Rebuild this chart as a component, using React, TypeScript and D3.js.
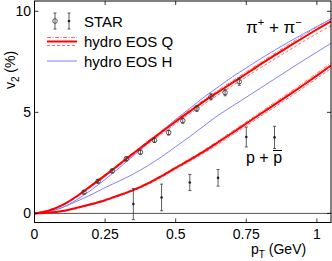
import React, { useEffect, useRef } from "react";
import * as d3 from "d3";

// pT grids (GeV)
const ptFine = [0, 0.05, 0.1, 0.15, 0.2, 0.25, 0.3, 0.35, 0.4, 0.45, 0.5, 0.55, 0.6, 0.65, 0.7, 0.75, 0.8, 0.85, 0.9, 0.95, 1.0, 1.05];
const ptCoarse = [0, 0.1, 0.2, 0.3, 0.4, 0.5, 0.6, 0.7, 0.8, 0.9, 1.0, 1.05];

// hydro curves, v2 in %
const pionEosQ = [0, 0.13, 0.42, 0.85, 1.36, 1.88, 2.42, 2.97, 3.5, 4.03, 4.55, 5.05, 5.54, 6.0, 6.46, 6.91, 7.37, 7.82, 8.25, 8.68, 9.1, 9.5];
const pionEosH = [0, 0.08, 0.3, 0.68, 1.15, 1.68, 2.25, 2.85, 3.45, 4.05, 4.65, 5.2, 5.75, 6.25, 6.75, 7.2, 7.65, 8.07, 8.48, 8.87, 9.25, 9.62];
const protonEosQ = [0, 0.03, 0.12, 0.28, 0.45, 0.65, 0.9, 1.15, 1.47, 1.85, 2.25, 2.65, 3.07, 3.52, 3.98, 4.45, 4.92, 5.38, 5.85, 6.33, 6.82, 7.32];
const protonEosH = [0, 0.08, 0.3, 0.6, 0.92, 1.28, 1.6, 1.95, 2.35, 2.8, 3.3, 3.8, 4.33, 4.85, 5.3, 5.75, 6.2, 6.65, 7.1, 7.55, 7.98, 8.42];

// EOS Q variations (dash-dot above, dashed below)
const pionEosQUp = [0, 0.44, 1.39, 2.47, 3.56, 4.62, 5.62, 6.55, 7.46, 8.36, 9.22, 9.63];
const pionEosQLow = [0, 0.4, 1.31, 2.36, 3.41, 4.44, 5.41, 6.31, 7.2, 8.06, 8.9, 9.29];
const protonEosQUp = [0, 0.13, 0.47, 0.93, 1.51, 2.3, 3.13, 4.06, 5.01, 5.96, 6.94, 7.44];
const protonEosQLow = [0, 0.11, 0.42, 0.86, 1.42, 2.19, 2.99, 3.88, 4.8, 5.72, 6.68, 7.17];

// STAR data
const pionPt = [0.175, 0.225, 0.275, 0.325, 0.375, 0.425, 0.475, 0.525, 0.575, 0.625, 0.675, 0.725];
const pionV2 = [1.05, 1.59, 2.1, 2.7, 3.03, 3.62, 4.0, 4.59, 5.19, 5.77, 5.98, 6.52];
const pionErr = [0.08, 0.08, 0.09, 0.1, 0.1, 0.11, 0.12, 0.13, 0.14, 0.15, 0.16, 0.18];
const protonPt = [0.35, 0.45, 0.55, 0.65, 0.75, 0.85];
const protonV2 = [0.46, 0.79, 1.53, 1.76, 3.78, 3.76];
const protonErr = [0.77, 0.66, 0.4, 0.41, 0.49, 0.55];

const xTicks = [0, 0.25, 0.5, 0.75, 1];
const xTickLabels = ["0", "0.25", "0.5", "0.75", "1"];
const yTicks = [0, 5, 10];

const RED = "#ff0000";
const PINK = "#ff5a5a";
const BLUE = "#8080ff";
const FONT = "'Liberation Sans', Arial, sans-serif";

export default function App() {
  const ref = useRef<SVGSVGElement>(null);

  useEffect(() => {
    const svg = d3.select(ref.current);
    svg.selectAll("*").remove();

    const left = 34.5, right = 331, top = 1, bottom = 222.5;
    const x = d3.scaleLinear().domain([0, 1.05]).range([left, right]);
    const y = d3.scaleLinear().domain([-0.45, 10.5]).range([bottom, top + 0.2]);

    const g = svg.append("g");

    // zero line
    g.append("line")
      .attr("x1", left).attr("x2", right)
      .attr("y1", y(0)).attr("y2", y(0))
      .attr("stroke", "#555").attr("stroke-width", 1);

    const line = (xs: number[]) =>
      d3.line<number>()
        .x((d, i) => x(xs[i]))
        .y((d) => y(d))
        .curve(d3.curveMonotoneX);

    const fine = line(ptFine);
    const coarse = line(ptCoarse);

    // variations
    [pionEosQUp, protonEosQUp].forEach((arr) => {
      g.append("path").attr("d", coarse(arr)).attr("fill", "none")
        .attr("stroke", PINK).attr("stroke-width", 0.9).attr("stroke-dasharray", "4,1.5,1,1.5");
    });
    [pionEosQLow, protonEosQLow].forEach((arr) => {
      g.append("path").attr("d", coarse(arr)).attr("fill", "none")
        .attr("stroke", PINK).attr("stroke-width", 0.9).attr("stroke-dasharray", "3,2");
    });

    // EOS H
    [pionEosH, protonEosH].forEach((arr) => {
      g.append("path").attr("d", fine(arr)).attr("fill", "none")
        .attr("stroke", BLUE).attr("stroke-width", 1);
    });
    // EOS Q
    [pionEosQ, protonEosQ].forEach((arr) => {
      g.append("path").attr("d", fine(arr)).attr("fill", "none")
        .attr("stroke", RED).attr("stroke-width", 2);
    });

    // error bars helper
    const errBar = (cx: number, y1: number, y2: number) => {
      g.append("line").attr("x1", cx).attr("x2", cx).attr("y1", y1).attr("y2", y2)
        .attr("stroke", "#333").attr("stroke-width", 0.8);
      [y1, y2].forEach((yy) =>
        g.append("line").attr("x1", cx - 1.5).attr("x2", cx + 1.5).attr("y1", yy).attr("y2", yy)
          .attr("stroke", "#333").attr("stroke-width", 0.8));
    };

    // pions: open circles
    pionPt.forEach((p, i) => {
      errBar(x(p), y(pionV2[i] + pionErr[i]), y(pionV2[i] - pionErr[i]));
      g.append("circle").attr("cx", x(p)).attr("cy", y(pionV2[i])).attr("r", 2.3)
        .attr("fill", "none").attr("stroke", "#333").attr("stroke-width", 0.8);
    });

    // protons: filled
    protonPt.forEach((p, i) => {
      errBar(x(p), y(protonV2[i] + protonErr[i]), y(protonV2[i] - protonErr[i]));
      g.append("circle").attr("cx", x(p)).attr("cy", y(protonV2[i])).attr("r", 1.3)
        .attr("fill", "#222");
    });

    // frame
    g.append("rect").attr("x", left).attr("y", top)
      .attr("width", right - left).attr("height", bottom - top)
      .attr("fill", "none").attr("stroke", "#000").attr("stroke-width", 1);

    const tl = 4;
    xTicks.forEach((t, i) => {
      g.append("line").attr("x1", x(t)).attr("x2", x(t)).attr("y1", bottom).attr("y2", bottom - tl)
        .attr("stroke", "#000").attr("stroke-width", 0.8);
      g.append("line").attr("x1", x(t)).attr("x2", x(t)).attr("y1", top).attr("y2", top + tl)
        .attr("stroke", "#000").attr("stroke-width", 0.8);
      g.append("text").attr("x", x(t)).attr("y", 239).attr("text-anchor", "middle")
        .attr("font-family", FONT).attr("font-size", 14).text(xTickLabels[i]);
    });
    yTicks.forEach((t) => {
      g.append("line").attr("x1", left).attr("x2", left + tl).attr("y1", y(t)).attr("y2", y(t))
        .attr("stroke", "#000").attr("stroke-width", 0.8);
      g.append("line").attr("x1", right).attr("x2", right - tl).attr("y1", y(t)).attr("y2", y(t))
        .attr("stroke", "#000").attr("stroke-width", 0.8);
      g.append("text").attr("x", 31).attr("y", y(t) + 5).attr("text-anchor", "end")
        .attr("font-family", FONT).attr("font-size", 14).text(String(t));
    });

    // axis titles
    const xt = g.append("text").attr("x", 251).attr("y", 253.5)
      .attr("font-family", FONT).attr("font-size", 14);
    xt.append("tspan").text("p");
    xt.append("tspan").attr("dy", 4).attr("font-size", 10).text("T");
    xt.append("tspan").attr("dy", -4).text(" (GeV)");

    const yt = g.append("text").attr("transform", "translate(15,70) rotate(-90)")
      .attr("text-anchor", "middle").attr("font-family", FONT).attr("font-size", 14);
    yt.append("tspan").text("v");
    yt.append("tspan").attr("dy", 4).attr("font-size", 10).text("2");
    yt.append("tspan").attr("dy", -4).text(" (%)");

    // particle labels
    const pi = g.append("text").attr("x", 246).attr("y", 33)
      .attr("font-family", FONT).attr("font-size", 17);
    pi.append("tspan").text("π");
    pi.append("tspan").attr("dy", -7).attr("font-size", 11).text("+");
    pi.append("tspan").attr("dy", 7).text(" + π");
    pi.append("tspan").attr("dy", -7).attr("font-size", 11).text("−");

    g.append("text").attr("x", 246).attr("y", 163)
      .attr("font-family", FONT).attr("font-size", 16).text("p + p");
    g.append("line").attr("x1", 273).attr("x2", 282).attr("y1", 150.5).attr("y2", 150.5)
      .attr("stroke", "#000").attr("stroke-width", 1);

    // legend
    const ly = [21, 41.5, 61];
    [55, 69].forEach((lx, k) => {
      errBar(lx, 13, 29);
      g.append("circle").attr("cx", lx).attr("cy", ly[0]).attr("r", k === 0 ? 2.3 : 1.3)
        .attr("fill", k === 0 ? "none" : "#222").attr("stroke", k === 0 ? "#333" : "none")
        .attr("stroke-width", 0.8);
    });
    g.append("line").attr("x1", 47).attr("x2", 77).attr("y1", ly[1] - 4).attr("y2", ly[1] - 4)
      .attr("stroke", PINK).attr("stroke-width", 0.9).attr("stroke-dasharray", "4,1.5,1,1.5");
    g.append("line").attr("x1", 47).attr("x2", 77).attr("y1", ly[1]).attr("y2", ly[1])
      .attr("stroke", RED).attr("stroke-width", 2);
    g.append("line").attr("x1", 47).attr("x2", 77).attr("y1", ly[1] + 4).attr("y2", ly[1] + 4)
      .attr("stroke", PINK).attr("stroke-width", 0.9).attr("stroke-dasharray", "3,2");
    g.append("line").attr("x1", 47).attr("x2", 77).attr("y1", ly[2]).attr("y2", ly[2])
      .attr("stroke", BLUE).attr("stroke-width", 1);
    const legText = ["STAR", "hydro EOS Q", "hydro EOS H"];
    legText.forEach((t, i) => {
      g.append("text").attr("x", 84).attr("y", ly[i] + 5.5)
        .attr("font-family", FONT).attr("font-size", 15).text(t);
    });
  }, []);

  return (
    <svg ref={ref} width={332} height={261}
      style={{ position: "absolute", left: 0, top: 0, background: "#fff" }} />
  );
}
